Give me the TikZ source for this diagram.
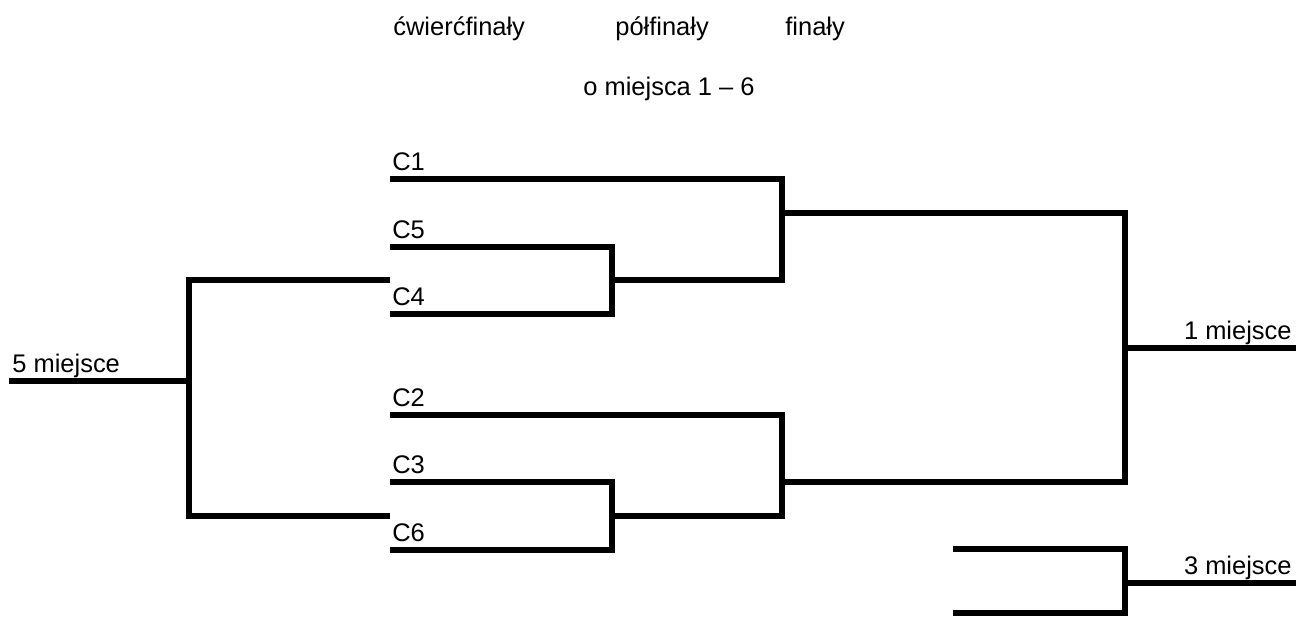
\documentclass[tikz,border=0pt]{standalone}
\usepackage{fontspec}
\setmainfont{Liberation Sans}
\usetikzlibrary{calc}
\tikzset{bracket/.style={line width=0.13cm, line join=miter, line cap=butt}}
\tikzset{lbl/.style={inner sep=0pt, anchor=base west, font=\fontsize{14.5}{17}\selectfont}}

\begin{document}
\begin{tikzpicture}[x=0.02cm, y=-0.02cm]
\useasboundingbox (0,0) rectangle (1296,616);

% naglowki
\node[lbl] (qf) at (393,35) {ćwierćfinały};
\node[lbl] (sf) at (615,35) {półfinały};
\node[lbl] (ff) at (785,35) {finały};
\node[lbl] (ms) at (583,95) {o miejsca 1 – 6};

% druzyny
\coordinate (C1) at (390,179);
\coordinate (C5) at (390,247);
\coordinate (C4) at (390,314);
\coordinate (C2) at (390,415);
\coordinate (C3) at (390,482);
\coordinate (C6) at (390,550);
\foreach \c in {C1,C5,C4,C2,C3,C6}
  \node[lbl] (n\c) at ($(\c)+(2,-9)$) {\c};

% wezly drabinki
\coordinate (s1) at (612,280);
\coordinate (s2) at (612,516);
\coordinate (f1) at (782,213);
\coordinate (f2) at (782,482);
\coordinate (w) at (1125,348);
\coordinate (p1) at (1296,348);
\coordinate (l5) at (189,381);
\coordinate (p5) at (9,381);
\coordinate (T1) at (953,549);
\coordinate (T2) at (953,613);
\coordinate (w3) at (1125,583);
\coordinate (p3) at (1296,583);

% cwiercfinaly
\draw[bracket] (C5) -| (s1 |- C4) -- (C4);
\draw[bracket] (C3) -| (s2 |- C6) -- (C6);

% polfinaly
\draw[bracket] (C1) -| (f1 |- s1) -- (s1);
\draw[bracket] (C2) -| (f2 |- s2) -- (s2);

% final
\draw[bracket] (f1) -| (w |- f2) -- (f2);
\draw[bracket] (w) -- (p1);
\node[lbl, anchor=base east] (m1) at (1292,339) {1 miejsce};

% o 5 miejsce
\draw[bracket] (C4 |- s1) -| (l5) |- (C6 |- s2);
\draw[bracket] (p5) -- (l5);
\node[lbl] (m5) at (12,372) {5 miejsce};

% o 3 miejsce
\draw[bracket] (T1) -| (w3 |- T2) -- (T2);
\draw[bracket] (w3) -- (p3);
\node[lbl, anchor=base east] (m3) at (1292,574) {3 miejsce};

\end{tikzpicture}
\end{document}
